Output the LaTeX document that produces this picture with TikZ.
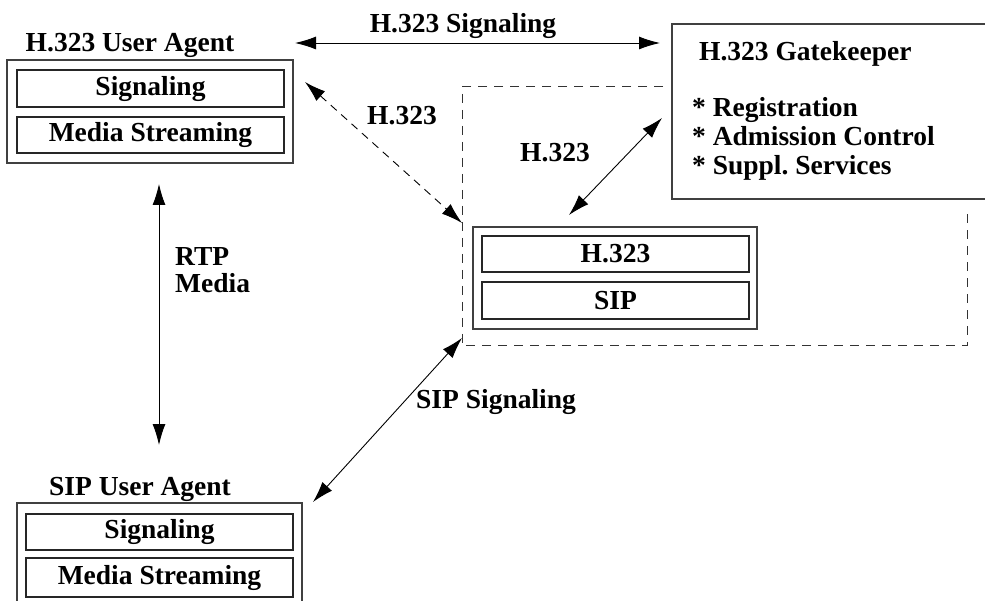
\documentclass[tikz,border=0pt]{standalone}
\usepackage{fontspec}
\setmainfont{Liberation Serif}
\usetikzlibrary{arrows.meta}
\frenchspacing
\begin{document}
\begin{tikzpicture}[x=1pt,y=-1pt,
  every node/.style={font=\bfseries\fontsize{27.5}{29}\selectfont, inner sep=0pt},
  outerbox/.style={draw=black!75, line width=1.3pt, minimum width=#1, minimum height=102pt},
  innerbox/.style={draw=black!85, line width=1.3pt, minimum width=267pt, minimum height=#1},
  lbl/.style={anchor=base},
  lblw/.style={anchor=base west},
  conn/.style={line width=0.9pt, {Latex[length=21pt,width=13pt]}-{Latex[length=21pt,width=13pt]}},
  dashconn/.style={conn, dash pattern=on 8pt off 6pt},
  region/.style={draw=black!80, line width=1pt, dash pattern=on 9pt off 7pt}
]
\useasboundingbox[fill=white] (0,0) rectangle (985,601);

% H.323 User Agent
\node[lbl] (ua1lbl) at (130,52) {H.323 User Agent};
\node[outerbox=286pt, minimum height=103pt] (ua1) at (150,111.5) {};
\node[innerbox=37pt] (ua1sig) at (150.5,88.5) {Signaling};
\node[innerbox=36pt] (ua1med) at (150.5,135) {Media Streaming};

% SIP User Agent
\node[lbl] (ua2lbl) at (140,495) {SIP User Agent};
\node[outerbox=285pt, minimum height=104pt] (ua2) at (159.5,555) {};
\node[innerbox=36pt] (ua2sig) at (159.5,532) {Signaling};
\node[innerbox=39pt] (ua2med) at (159.5,577.5) {Media Streaming};

% Gatekeeper
\node[draw=black!75, line width=1.3pt, minimum width=330pt, minimum height=175pt] (gk) at (837,111.5) {};
\node[lblw] (gktitle) at (699,61) {H.323 Gatekeeper};
\node[lblw] (gk1) at (692,117) {* Registration};
\node[lblw] (gk2) at (692,146) {* Admission Control};
\node[lblw] (gk3) at (692,175) {* Suppl. Services};

% Gateway
\node[outerbox=284pt] (gw) at (615,278) {};
\node[innerbox=36pt] (gwh) at (615.5,254) {H.323};
\node[innerbox=37pt] (gws) at (615.5,300.5) {SIP};

% dashed region
\coordinate (r1) at (663,87);
\coordinate (r2) at (462,87);
\coordinate (r3) at (462,346);
\coordinate (r4) at (967,346);
\coordinate (r5) at (967,210);
\draw[region] (r1) -- (r2) -- (r3) -- (r4) -- (r5);

% connectors
\coordinate (s1) at (295,43);
\coordinate (s2) at (660,43);
\draw[conn] (s1) -- (s2);
\node[lbl] (siglbl) at (463,33) {H.323 Signaling};

\coordinate (d1) at (305,82);
\coordinate (d2) at (462,223);
\draw[dashconn] (d1) -- (d2);
\node[lbl] (dlbl) at (402,125) {H.323};

\coordinate (g1) at (569,215);
\coordinate (g2) at (662,118);
\draw[conn] (g1) -- (g2);
\node[lbl] (glbl) at (555,162) {H.323};

\coordinate (m1) at (159,184);
\coordinate (m2) at (159,445);
\draw[conn] (m1) -- (m2);
\node[lblw] (rtp) at (175,266) {RTP};
\node[lblw] (media) at (175,293) {Media};

\coordinate (p1) at (313,502);
\coordinate (p2) at (462,338);
\draw[conn] (p1) -- (p2);
\node[lblw] (siplbl) at (416,408) {SIP Signaling};
\end{tikzpicture}
\end{document}
